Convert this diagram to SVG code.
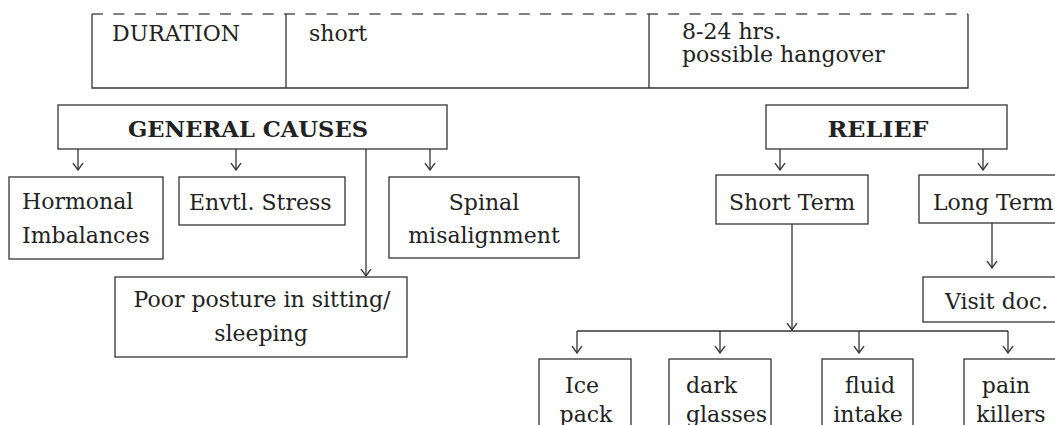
<svg xmlns="http://www.w3.org/2000/svg" width="1055" height="425" viewBox="0 0 1055 425">
  <style>
    .box { fill: #ffffff; stroke: #333333; stroke-width: 1.3; }
    .ln { fill: none; stroke: #333333; stroke-width: 1.3; }
    .arr { fill: none; stroke: #333333; stroke-width: 1.3; marker-end: url(#head); }
    .dash { fill: none; stroke: #555555; stroke-width: 1.3; stroke-dasharray: 11 10.34; }
    text { font-family: "DejaVu Serif", "Liberation Serif", serif; font-size: 22px; fill: #222222; }
    .b { font-weight: bold; }
    .c { text-anchor: middle; }
  </style>
  <defs>
    <marker id="head" viewBox="0 0 8 12" refX="7.5" refY="6" markerWidth="8" markerHeight="12" markerUnits="userSpaceOnUse" orient="auto">
      <path d="M0.5,1 L7.5,6 L0.5,11" fill="none" stroke="#333333" stroke-width="1.3"/>
    </marker>
  </defs>

  <!-- duration row of the table -->
  <g id="duration-row">
    <path class="dash" d="M92,14 H968"/>
    <path class="ln" d="M92,14 V88 H968 V14 M286,14 V88 M649,14 V88"/>
    <text x="112" y="41">DURATION</text>
    <text x="309" y="41">short</text>
    <text x="682" y="39">8-24 hrs.</text>
    <text x="682" y="62">possible hangover</text>
  </g>

  <!-- connectors -->
  <g id="connectors">
    <path class="arr" d="M78,149 V170"/>
    <path class="arr" d="M236,149 V170"/>
    <path class="arr" d="M430,149 V170"/>
    <path class="arr" d="M366,149 V276"/>
    <path class="arr" d="M780,149 V170"/>
    <path class="arr" d="M983,149 V170"/>
    <path class="arr" d="M792,224 V330"/>
    <path class="arr" d="M992,223 V268"/>
    <path class="ln" d="M577,331 H1008"/>
    <path class="arr" d="M577,331 V353"/>
    <path class="arr" d="M720,331 V353"/>
    <path class="arr" d="M859,331 V353"/>
    <path class="arr" d="M1008,331 V353"/>
  </g>

  <g id="general-causes">
    <rect class="box" x="58" y="105" width="389" height="44"/>
    <text class="b c" x="248" y="137" textLength="240" lengthAdjust="spacingAndGlyphs">GENERAL CAUSES</text>
  </g>
  <g id="hormonal">
    <rect class="box" x="9" y="177" width="154" height="82"/>
    <text x="22" y="209">Hormonal</text>
    <text x="22" y="243">Imbalances</text>
  </g>
  <g id="envtl-stress">
    <rect class="box" x="179" y="177" width="166" height="48"/>
    <text x="189" y="210">Envtl. Stress</text>
  </g>
  <g id="spinal">
    <rect class="box" x="389" y="177" width="190" height="81"/>
    <text class="c" x="484" y="210">Spinal</text>
    <text class="c" x="484" y="243">misalignment</text>
  </g>
  <g id="posture">
    <rect class="box" x="115" y="277" width="292" height="80"/>
    <text class="c" x="262" y="307">Poor posture in sitting/</text>
    <text class="c" x="261" y="341">sleeping</text>
  </g>

  <g id="relief">
    <rect class="box" x="766" y="105" width="241" height="44"/>
    <text class="b c" x="878" y="137" textLength="101" lengthAdjust="spacingAndGlyphs">RELIEF</text>
  </g>
  <g id="short-term">
    <rect class="box" x="716" y="175" width="152" height="49"/>
    <text x="729" y="210">Short Term</text>
  </g>
  <g id="long-term">
    <rect class="box" x="919" y="175" width="150" height="48"/>
    <text x="933" y="210">Long Term</text>
  </g>
  <g id="visit-doc">
    <rect class="box" x="923" y="277" width="150" height="45"/>
    <text x="945" y="309">Visit doc.</text>
  </g>
  <g id="ice-pack">
    <rect class="box" x="539" y="359" width="92" height="80"/>
    <text class="c" x="582" y="393">Ice</text>
    <text class="c" x="586" y="422">pack</text>
  </g>
  <g id="dark-glasses">
    <rect class="box" x="669" y="359" width="102" height="80"/>
    <text x="686" y="393">dark</text>
    <text x="686" y="422">glasses</text>
  </g>
  <g id="fluid-intake">
    <rect class="box" x="822" y="359" width="91" height="80"/>
    <text class="c" x="870" y="393">fluid</text>
    <text class="c" x="868" y="422">intake</text>
  </g>
  <g id="pain-killers">
    <rect class="box" x="964" y="359" width="110" height="80"/>
    <text class="c" x="1006" y="393">pain</text>
    <text class="c" x="1011" y="422">killers</text>
  </g>
</svg>
